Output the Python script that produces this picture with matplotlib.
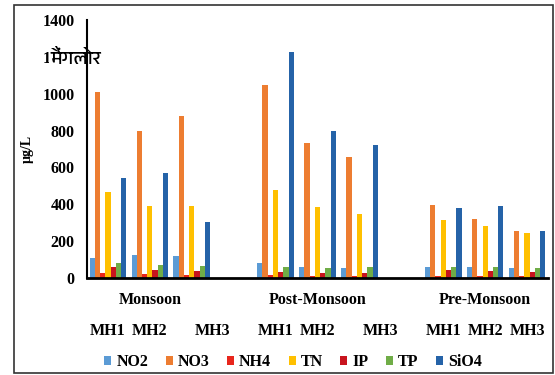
import matplotlib
matplotlib.use('Agg')
import matplotlib.pyplot as plt
from matplotlib import font_manager
from matplotlib.patches import Rectangle
import numpy as np

# Données (µg/L)
series = ['NO2', 'NO3', 'NH4', 'TN', 'IP', 'TP', 'SiO4']
colors = ['#5B9BD5', '#ED7D31', '#E8261C', '#FFC000', '#C8141E', '#70AD47', '#2563A8']
seasons = ['Monsoon', 'Post-Monsoon', 'Pre-Monsoon']
sites = ['MH1', 'MH2', 'MH3']

NO2 = [110, 125, 117, 82, 62, 52, 62, 62, 53]
NO3 = [1010, 800, 880, 1050, 735, 655, 398, 318, 256]
NH4 = [25, 20, 15, 16, 12, 10, 12, 12, 10]
TN = [467, 389, 392, 480, 387, 350, 315, 282, 246]
IP = [60, 45, 40, 33, 28, 28, 44, 36, 35]
TP = [80, 72, 64, 62, 55, 62, 62, 62, 55]
SiO4 = [545, 568, 306, 1225, 800, 722, 378, 392, 255]
values = [NO2, NO3, NH4, TN, IP, TP, SiO4]

# positions des groupes (une case vide entre les saisons)
slots = [0, 1, 2, 4, 5, 6, 8, 9, 10]
site_label_x = [0, 1, 2.5, 4, 5, 6.5, 8, 9, 10]
season_label_x = [1, 5, 9]

serif = 'Liberation Serif'
deva = [f.name for f in font_manager.fontManager.ttflist if 'Devanagari' in f.name]
hindi_family = deva[:1] + ['DejaVu Sans']

fig = plt.figure(figsize=(5.55, 3.75), dpi=100)
ax = fig.add_axes([87 / 555, 1 - 278 / 375, (548 - 87) / 555, (278 - 20) / 375])

bw = 0.125
for k, (name, vals) in enumerate(zip(series, values)):
    xs = np.array(slots) + (k - 3) * bw
    ax.bar(xs, vals, width=bw, color=colors[k], label=name, linewidth=0)

ax.set_xlim(-0.5, 10.5)
ax.set_ylim(0, 1400)
ax.set_yticks(range(0, 1401, 200))
ax.set_xticks([])
ax.tick_params(axis='y', length=0, pad=9)
for lab in ax.get_yticklabels():
    lab.set_fontfamily(serif)
    lab.set_fontweight('bold')
    lab.set_fontsize(11.5)
for s in ['top', 'right']:
    ax.spines[s].set_visible(False)
ax.spines['left'].set_linewidth(1.5)
ax.spines['bottom'].set_linewidth(2)
ax.spines['left'].set_zorder(5)

# étiquettes de l'axe x
for x, s in zip(season_label_x, seasons):
    ax.text(x, -118, s, ha='center', va='center', fontfamily=serif,
            fontweight='bold', fontsize=11.5, clip_on=False)
for x, s in zip(site_label_x, sites * 3):
    ax.text(x, -285, s, ha='center', va='center', fontfamily=serif,
            fontweight='bold', fontsize=11.5, clip_on=False)

fig.text(27 / 555, 1 - 149 / 375, 'µg/L', rotation=90, ha='center', va='center',
         fontfamily=serif, fontweight='bold', fontsize=10)

# texte hindi superposé sur le "200" de 1200
ax.text(-0.5 - 37 / 41.9, 1195, 'मैंगलोर', ha='left', va='center', fontsize=14,
        family=hindi_family, zorder=4, clip_on=False,
        bbox=dict(facecolor='white', edgecolor='none', pad=0.5))

leg = fig.legend(loc='center', bbox_to_anchor=(293 / 555, 1 - 362 / 375), ncol=7,
                 frameon=False, handlelength=0.45, handleheight=0.45,
                 handletextpad=0.3, columnspacing=1.1,
                 prop={'family': serif, 'weight': 'bold', 'size': 11.5})

fig.patches.append(Rectangle((14 / 555, 2 / 375), 539 / 555, 368 / 375, fill=False,
                             edgecolor='#333333', linewidth=1.2,
                             transform=fig.transFigure, figure=fig))

fig.savefig('out.png', dpi=100)
